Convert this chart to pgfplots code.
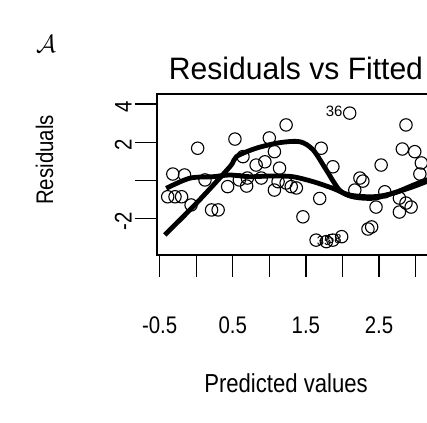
\documentclass[border=0pt]{standalone}
\usepackage{pgfplots}
\pgfplotsset{compat=1.18}
\usepackage{fontspec}
\setmainfont{Liberation Sans}
\newfontfamily\cond[FakeStretch=0.85]{Liberation Sans}
\newfontfamily\condb[FakeStretch=0.97]{Liberation Sans}
\begin{document}
\begin{tikzpicture}[x=1pt,y=1pt]
\path[use as bounding box, fill=white] (0,0) rectangle (427,-422);
\begin{axis}[
  at={(157.1pt,-255pt)}, anchor=south west,
  scale only axis, width=282.5pt, height=161pt,
  xmin=-0.535, xmax=3.33, ymin=-3.9, ymax=4.53,
  axis line style={line width=1.4pt},
  tick align=outside, major tick length=22pt,
  xtick pos=bottom, ytick pos=left,
  tick style={line width=1.4pt, black},
  xtick={-0.5,0,0.5,1,1.5,2,2.5,3},
  xticklabels={-0.5,,0.5,,1.5,,2.5,},
  ytick={-2,0,2,4}, yticklabels={-2,,2,4},
  xticklabel style={font=\cond\fontsize{24}{24}\selectfont, yshift=-36pt},
  yticklabel style={font=\cond\fontsize{24}{24}\selectfont, rotate=90, anchor=south, xshift=-3pt},
]
\addplot[only marks, mark=o, mark size=6.2pt, mark options={line width=1.1pt, black}] coordinates {
(-0.39,-0.85) (-0.29,-0.85) (-0.20,-0.85) (-0.32,0.34) (-0.16,0.29)
(0.02,1.69) (-0.07,-1.28) (0.21,-1.54) (0.30,-1.54) (0.12,0.03)
(0.43,-0.32) (0.53,2.17) (0.59,0.03) (0.70,0.13) (0.64,1.25)
(0.82,0.81) (0.89,0.13) (0.94,0.98) (1.00,2.23) (1.07,1.51)
(1.14,0.65) (1.23,2.91) (1.12,-0.06) (1.23,-0.13) (1.30,-0.32)
(1.37,-0.39) (1.46,-1.90) (1.71,1.69) (1.87,0.72) (1.69,-0.94)
(1.64,-3.12) (1.78,-3.20) (1.87,-3.12) (1.99,-2.94) (2.10,3.53)
(2.24,0.13) (2.17,-0.50) (2.28,-0.03) (2.35,-2.54) (2.40,-2.43)
(2.46,-1.39) (2.53,0.81) (2.58,-0.59) (2.78,-0.92) (2.87,-1.18)
(2.78,-1.65) (2.94,-1.39) (2.87,2.91) (2.82,1.65) (2.99,1.51)
(3.08,0.92) (3.06,0.34) (0.69,-0.29) (1.07,-0.50)
};
\addplot[smooth, line width=4.8pt, black] coordinates {
(-0.43,-2.85) (0.0,-1.2) (0.46,0.72) (0.55,1.25) (0.82,1.69) (1.14,1.98)
(1.42,2.03) (1.60,1.60) (1.78,0.55) (1.96,-0.50) (2.14,-0.85)
(2.42,-0.93) (2.69,-0.67) (2.97,-0.32) (3.15,-0.06) (3.3,0.1)
};
\addplot[smooth, line width=4.8pt, black] coordinates {
(-0.41,-0.41) (-0.09,0.12) (0.23,0.20) (0.46,0.29) (0.73,0.20)
(1.05,0.24) (1.32,0.20) (1.60,-0.06) (1.87,-0.41) (2.10,-0.76)
(2.42,-0.85) (2.69,-0.67) (2.97,-0.24) (3.15,0.03) (3.3,0.15)
};
\node[font=\fontsize{15}{15}\selectfont, anchor=east] at (axis cs:2.05,3.62) {36};
\node[font=\fontsize{13}{13}\selectfont, inner sep=0pt] at (axis cs:1.75,-3.17) {35};
\node[font=\fontsize{13}{13}\selectfont, inner sep=0pt] at (axis cs:1.89,-3.08) {58};
\end{axis}
\node[font=\condb\fontsize{31}{31}\selectfont, anchor=base] at (296pt,-80pt) {Residuals vs Fitted};
\node[font=\cond\fontsize{26}{26}\selectfont, anchor=base] at (286pt,-392pt) {Predicted values};
\node[font=\cond\fontsize{24}{24}\selectfont, rotate=90, anchor=base] at (53pt,-160pt) {Residuals};
\node[font=\fontsize{84}{84}\selectfont] at (46pt,-44pt) {$\mathcal{A}$};
\end{tikzpicture}
\end{document}
